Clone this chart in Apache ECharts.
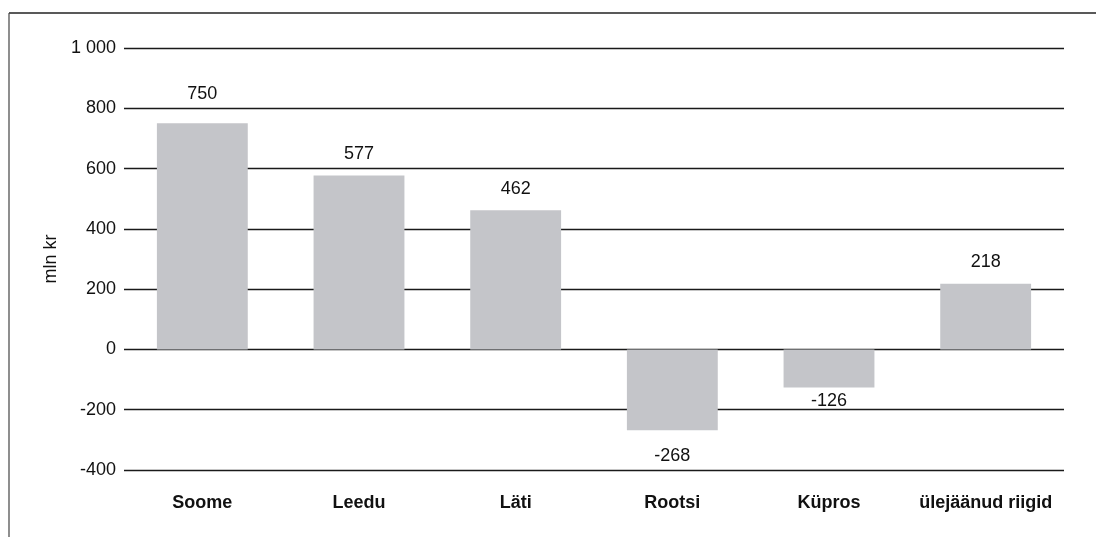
<!DOCTYPE html>
<html>
<head>
<meta charset="utf-8">
<script src="https://cdn.jsdelivr.net/npm/echarts@6/dist/echarts.min.js"></script>
<style>
html,body{margin:0;padding:0;background:#fff;}
#c{width:1096px;height:537px;}
</style>
</head>
<body>
<div id="c"></div>
<script>
var categories = ['Soome', 'Leedu', 'Läti', 'Rootsi', 'Küpros', 'ülejäänud riigid'];
var values = [750, 577, 462, -268, -126, 218];
var labelDistances = [20, 12, 12, 17, 5, 13];
var yMin = -400, yMax = 1000, yStep = 200;
var yName = 'mln kr';

var chart = echarts.init(document.getElementById('c'), null, {renderer: 'canvas'});
var font = '"Liberation Sans", Arial, Helvetica, sans-serif';
var data = values.map(function (v, i) {
  return {
    value: v,
    label: {position: v >= 0 ? 'top' : 'bottom', distance: labelDistances[i]}
  };
});
chart.setOption({
  animation: false,
  backgroundColor: '#fff',
  grid: {left: 124, right: 32, top: 48, bottom: 67, containLabel: false},
  xAxis: {
    type: 'category',
    data: categories,
    axisLine: {show: false},
    axisTick: {show: false},
    axisLabel: {
      interval: 0,
      color: '#111', fontFamily: font, fontSize: 18, fontWeight: 'bold', margin: 24
    },
    splitLine: {show: false}
  },
  yAxis: {
    type: 'value',
    min: yMin, max: yMax, interval: yStep,
    name: yName,
    nameLocation: 'middle',
    nameGap: 58,
    nameRotate: 90,
    nameTextStyle: {color: '#111', fontFamily: font, fontSize: 18},
    axisLine: {show: false},
    axisTick: {show: false},
    axisLabel: {
      color: '#111', fontFamily: font, fontSize: 18, margin: 8,
      formatter: function (v) {
        var s = String(Math.abs(v)).replace(/\B(?=(\d{3})+(?!\d))/g, ' ');
        return (v < 0 ? '-' : '') + s;
      }
    },
    splitLine: {show: true, lineStyle: {color: '#1a1a1a', width: 1.3}}
  },
  series: [{
    type: 'bar',
    data: data,
    barWidth: '58%',
    itemStyle: {color: '#c4c5c9'},
    label: {show: true, color: '#111', fontFamily: font, fontSize: 18},
    z: 1
  }],
  graphic: [
    {type: 'line', shape: {x1: 9, y1: 13, x2: 1096, y2: 13}, style: {stroke: '#222', lineWidth: 1.5}, silent: true},
    {type: 'line', shape: {x1: 9, y1: 13, x2: 9, y2: 537}, style: {stroke: '#444', lineWidth: 1.2}, silent: true}
  ]
});
</script>
</body>
</html>
